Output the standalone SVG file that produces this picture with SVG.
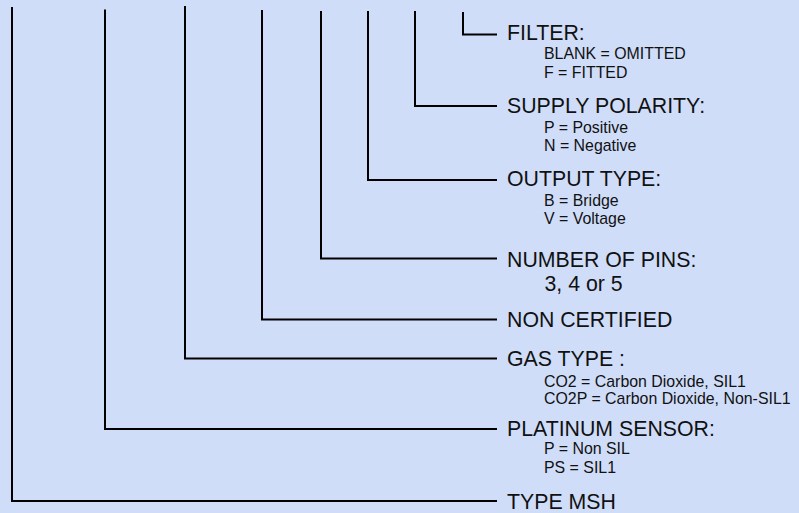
<svg xmlns="http://www.w3.org/2000/svg" width="799" height="513" viewBox="0 0 799 513">
<style>
.bg{fill:#d0ddf9}
.ln{fill:none;stroke:#000;stroke-width:2;stroke-linecap:butt;stroke-linejoin:miter}
.h{font-family:"Liberation Sans",Arial,sans-serif;font-size:21.3px;fill:#111}
.s{font-family:"Liberation Sans",Arial,sans-serif;font-size:15.9px;fill:#111}
</style>
<rect class="bg" x="0" y="0" width="799" height="513"/>
<g id="connectors">
<path class="ln" d="M463,12 V34.5 H497"/>
<path class="ln" d="M415,11 V106 H497"/>
<path class="ln" d="M368,11 V180 H497"/>
<path class="ln" d="M321,11 V258.5 H497"/>
<path class="ln" d="M262,10 V319.5 H497"/>
<path class="ln" d="M185,6 V358.5 H497"/>
<path class="ln" d="M105,9.5 V429 H497"/>
<path class="ln" d="M12,7 V501 H497"/>
</g>
<g id="filter">
<text class="h" x="507" y="40">FILTER:</text>
<text class="s" x="544" y="59.3">BLANK = OMITTED</text>
<text class="s" x="544" y="77.7">F = FITTED</text>
</g>
<g id="supply-polarity">
<text class="h" x="507" y="112.7">SUPPLY POLARITY:</text>
<text class="s" x="544" y="132.7">P = Positive</text>
<text class="s" x="544" y="150.7">N = Negative</text>
</g>
<g id="output-type">
<text class="h" x="507" y="186">OUTPUT TYPE:</text>
<text class="s" x="544" y="206">B = Bridge</text>
<text class="s" x="544" y="224">V = Voltage</text>
</g>
<g id="number-of-pins">
<text class="h" x="507" y="266.7">NUMBER OF PINS:</text>
<text class="h" x="544.5" y="291">3, 4 or 5</text>
</g>
<g id="non-certified">
<text class="h" x="507" y="327.3">NON CERTIFIED</text>
</g>
<g id="gas-type">
<text class="h" x="507" y="366">GAS TYPE :</text>
<text class="s" x="544" y="386.7">CO2 = Carbon Dioxide, SIL1</text>
<text class="s" x="544" y="404">CO2P = Carbon Dioxide, Non-SIL1</text>
</g>
<g id="platinum-sensor">
<text class="h" x="507" y="436">PLATINUM SENSOR:</text>
<text class="s" x="544" y="454">P = Non SIL</text>
<text class="s" x="544" y="472.7">PS = SIL1</text>
</g>
<g id="type-msh">
<text class="h" x="507" y="508.5">TYPE MSH</text>
</g>
</svg>
